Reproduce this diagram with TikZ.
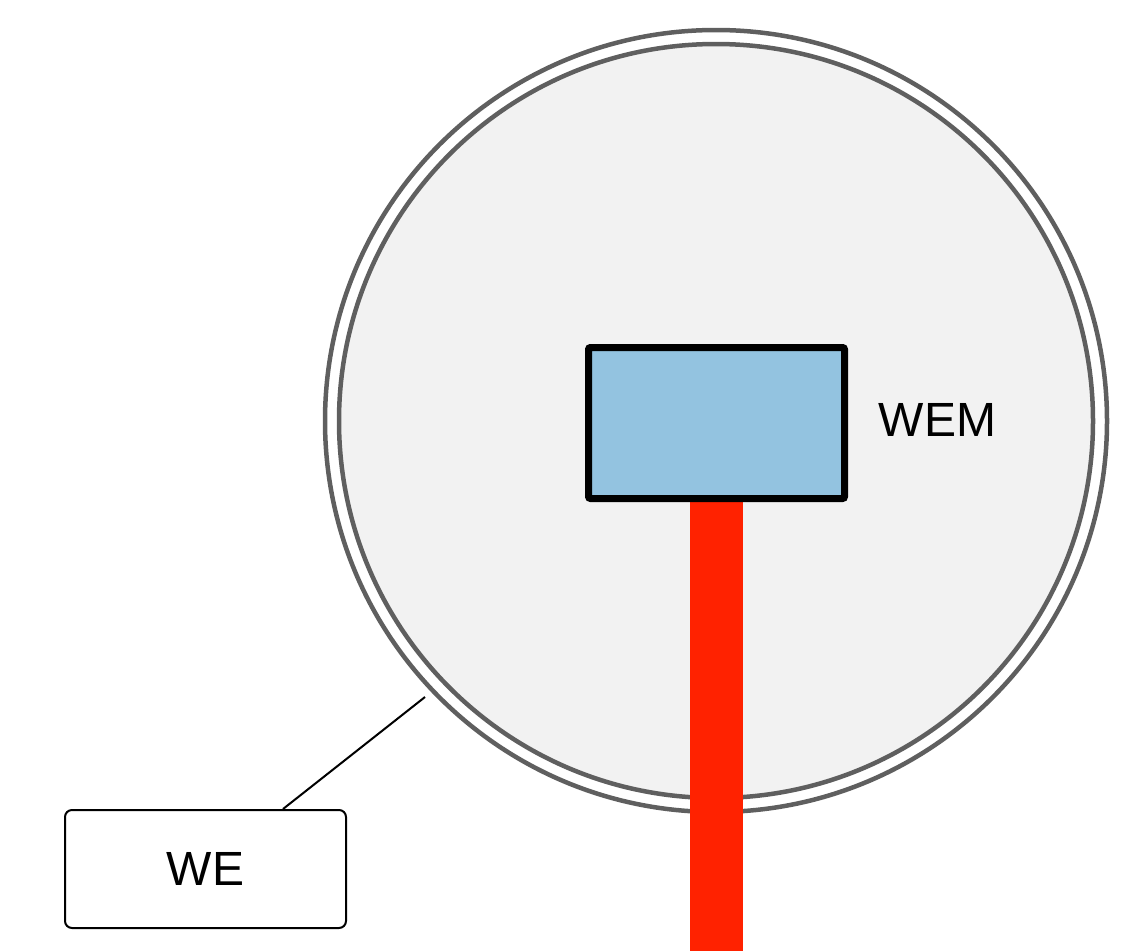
\documentclass[tikz,border=0pt]{standalone}
\usepackage{fontspec}
\setmainfont{Liberation Sans}
\usetikzlibrary{calc}
\definecolor{ringgray}{HTML}{5F5F5F}
\definecolor{lightfill}{HTML}{F2F2F2}
\definecolor{wemblue}{HTML}{93C3E0}
\definecolor{barred}{HTML}{FF2200}
\tikzset{
  ring/.style={draw=ringgray, line width=4.5pt},
  wembox/.style={draw=black, line width=7pt, fill=wemblue, rounded corners=2pt, minimum width=256pt, minimum height=151pt, inner sep=0pt},
  webox/.style={draw=black, line width=2pt, fill=white, rounded corners=7pt, minimum width=281pt, minimum height=118pt, inner sep=0pt, font=\fontsize{48}{58}\selectfont},
  lbl/.style={font=\fontsize{48}{58}\selectfont, inner sep=0pt},
  bar/.style={fill=barred}
}
\begin{document}
\begin{tikzpicture}[x=1pt,y=-1pt]
\useasboundingbox (0,0) rectangle (1126,951);
% rings
\draw[ring] (716,421) circle[radius=391];
\draw[ring, fill=lightfill] (716,421) circle[radius=377];
% red bar
\coordinate (bartop) at (716.5,490);
\coordinate (barend) at (716.5,951);
\fill[bar] ($(bartop)+(-26.5,0)$) rectangle ($(barend)+(26.5,0)$);
% WEM box
\node[wembox] (wem) at (716.5,423) {};
\node[lbl] (wemlabel) at (937.5,420) {WEM};
% WE box
\node[webox] (we) at (205.5,869) {WE};
\coordinate (ringpt) at (425,697);
\draw[black, line width=2pt] ($(we.north)+(77.5,0)$) -- (ringpt);
\end{tikzpicture}
\end{document}
